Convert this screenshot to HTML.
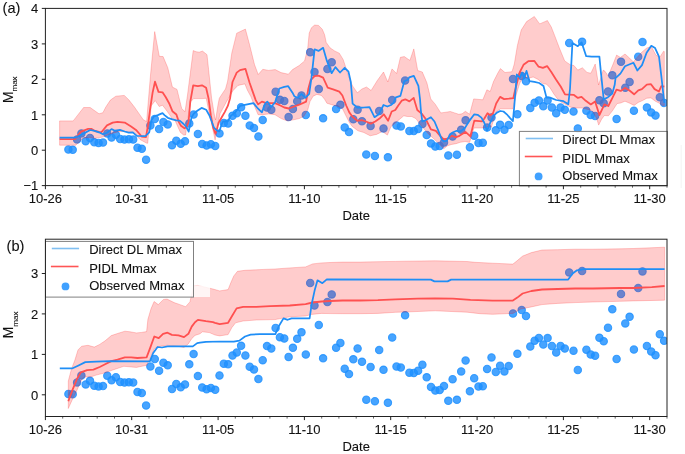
<!DOCTYPE html>
<html><head><meta charset="utf-8"><style>
html,body{margin:0;padding:0;background:#fff;width:685px;height:454px;overflow:hidden}
svg{display:block;will-change:transform}
.t{font-family:"Liberation Sans",sans-serif;font-size:13px;fill:#111;stroke:#111;stroke-width:0.1px}
.p{font-family:"Liberation Sans",sans-serif;font-size:14.6px;fill:#111;stroke:#111;stroke-width:0.1px}
</style></head><body>
<svg width="685" height="454" viewBox="0 0 685 454">
<rect width="685" height="454" fill="#fff"/>
<clipPath id="ca"><rect x="45.4" y="8.4" width="621.6" height="177.2"/></clipPath>
<g clip-path="url(#ca)">
<circle cx="68.4" cy="149.6" r="3.7" fill="#1e90ff" fill-opacity="0.82" stroke="#1e90ff" stroke-opacity="0.82" stroke-width="1.1"/>
<circle cx="72.7" cy="149.8" r="3.7" fill="#1e90ff" fill-opacity="0.82" stroke="#1e90ff" stroke-opacity="0.82" stroke-width="1.1"/>
<circle cx="77.1" cy="139.4" r="3.7" fill="#1e90ff" fill-opacity="0.82" stroke="#1e90ff" stroke-opacity="0.82" stroke-width="1.1"/>
<circle cx="81.4" cy="133.4" r="3.7" fill="#1e90ff" fill-opacity="0.82" stroke="#1e90ff" stroke-opacity="0.82" stroke-width="1.1"/>
<circle cx="85.7" cy="141.2" r="3.7" fill="#1e90ff" fill-opacity="0.82" stroke="#1e90ff" stroke-opacity="0.82" stroke-width="1.1"/>
<circle cx="90" cy="138" r="3.7" fill="#1e90ff" fill-opacity="0.82" stroke="#1e90ff" stroke-opacity="0.82" stroke-width="1.1"/>
<circle cx="94.3" cy="142.3" r="3.7" fill="#1e90ff" fill-opacity="0.82" stroke="#1e90ff" stroke-opacity="0.82" stroke-width="1.1"/>
<circle cx="98.6" cy="142.9" r="3.7" fill="#1e90ff" fill-opacity="0.82" stroke="#1e90ff" stroke-opacity="0.82" stroke-width="1.1"/>
<circle cx="103" cy="142.6" r="3.7" fill="#1e90ff" fill-opacity="0.82" stroke="#1e90ff" stroke-opacity="0.82" stroke-width="1.1"/>
<circle cx="107.3" cy="133.5" r="3.7" fill="#1e90ff" fill-opacity="0.82" stroke="#1e90ff" stroke-opacity="0.82" stroke-width="1.1"/>
<circle cx="111.6" cy="137.6" r="3.7" fill="#1e90ff" fill-opacity="0.82" stroke="#1e90ff" stroke-opacity="0.82" stroke-width="1.1"/>
<circle cx="115.9" cy="134.8" r="3.7" fill="#1e90ff" fill-opacity="0.82" stroke="#1e90ff" stroke-opacity="0.82" stroke-width="1.1"/>
<circle cx="120.2" cy="139" r="3.7" fill="#1e90ff" fill-opacity="0.82" stroke="#1e90ff" stroke-opacity="0.82" stroke-width="1.1"/>
<circle cx="124.5" cy="139.6" r="3.7" fill="#1e90ff" fill-opacity="0.82" stroke="#1e90ff" stroke-opacity="0.82" stroke-width="1.1"/>
<circle cx="128.9" cy="139.3" r="3.7" fill="#1e90ff" fill-opacity="0.82" stroke="#1e90ff" stroke-opacity="0.82" stroke-width="1.1"/>
<circle cx="133.2" cy="139.6" r="3.7" fill="#1e90ff" fill-opacity="0.82" stroke="#1e90ff" stroke-opacity="0.82" stroke-width="1.1"/>
<circle cx="137.5" cy="147.7" r="3.7" fill="#1e90ff" fill-opacity="0.82" stroke="#1e90ff" stroke-opacity="0.82" stroke-width="1.1"/>
<circle cx="141.8" cy="148.8" r="3.7" fill="#1e90ff" fill-opacity="0.82" stroke="#1e90ff" stroke-opacity="0.82" stroke-width="1.1"/>
<circle cx="146.1" cy="159.7" r="3.7" fill="#1e90ff" fill-opacity="0.82" stroke="#1e90ff" stroke-opacity="0.82" stroke-width="1.1"/>
<circle cx="150.4" cy="125.6" r="3.7" fill="#1e90ff" fill-opacity="0.82" stroke="#1e90ff" stroke-opacity="0.82" stroke-width="1.1"/>
<circle cx="154.8" cy="118.9" r="3.7" fill="#1e90ff" fill-opacity="0.82" stroke="#1e90ff" stroke-opacity="0.82" stroke-width="1.1"/>
<circle cx="159.1" cy="129.1" r="3.7" fill="#1e90ff" fill-opacity="0.82" stroke="#1e90ff" stroke-opacity="0.82" stroke-width="1.1"/>
<circle cx="163.4" cy="122.1" r="3.7" fill="#1e90ff" fill-opacity="0.82" stroke="#1e90ff" stroke-opacity="0.82" stroke-width="1.1"/>
<circle cx="167.7" cy="124.4" r="3.7" fill="#1e90ff" fill-opacity="0.82" stroke="#1e90ff" stroke-opacity="0.82" stroke-width="1.1"/>
<circle cx="172" cy="145.2" r="3.7" fill="#1e90ff" fill-opacity="0.82" stroke="#1e90ff" stroke-opacity="0.82" stroke-width="1.1"/>
<circle cx="176.3" cy="140.7" r="3.7" fill="#1e90ff" fill-opacity="0.82" stroke="#1e90ff" stroke-opacity="0.82" stroke-width="1.1"/>
<circle cx="180.7" cy="143.7" r="3.7" fill="#1e90ff" fill-opacity="0.82" stroke="#1e90ff" stroke-opacity="0.82" stroke-width="1.1"/>
<circle cx="185" cy="141.2" r="3.7" fill="#1e90ff" fill-opacity="0.82" stroke="#1e90ff" stroke-opacity="0.82" stroke-width="1.1"/>
<circle cx="189.3" cy="123.5" r="3.7" fill="#1e90ff" fill-opacity="0.82" stroke="#1e90ff" stroke-opacity="0.82" stroke-width="1.1"/>
<circle cx="193.6" cy="114.6" r="3.7" fill="#1e90ff" fill-opacity="0.82" stroke="#1e90ff" stroke-opacity="0.82" stroke-width="1.1"/>
<circle cx="197.9" cy="133.9" r="3.7" fill="#1e90ff" fill-opacity="0.82" stroke="#1e90ff" stroke-opacity="0.82" stroke-width="1.1"/>
<circle cx="202.2" cy="143.9" r="3.7" fill="#1e90ff" fill-opacity="0.82" stroke="#1e90ff" stroke-opacity="0.82" stroke-width="1.1"/>
<circle cx="206.6" cy="145.5" r="3.7" fill="#1e90ff" fill-opacity="0.82" stroke="#1e90ff" stroke-opacity="0.82" stroke-width="1.1"/>
<circle cx="210.9" cy="144.2" r="3.7" fill="#1e90ff" fill-opacity="0.82" stroke="#1e90ff" stroke-opacity="0.82" stroke-width="1.1"/>
<circle cx="215.2" cy="145.9" r="3.7" fill="#1e90ff" fill-opacity="0.82" stroke="#1e90ff" stroke-opacity="0.82" stroke-width="1.1"/>
<circle cx="219.5" cy="133.4" r="3.7" fill="#1e90ff" fill-opacity="0.82" stroke="#1e90ff" stroke-opacity="0.82" stroke-width="1.1"/>
<circle cx="223.8" cy="123" r="3.7" fill="#1e90ff" fill-opacity="0.82" stroke="#1e90ff" stroke-opacity="0.82" stroke-width="1.1"/>
<circle cx="228.1" cy="123.5" r="3.7" fill="#1e90ff" fill-opacity="0.82" stroke="#1e90ff" stroke-opacity="0.82" stroke-width="1.1"/>
<circle cx="232.5" cy="115.8" r="3.7" fill="#1e90ff" fill-opacity="0.82" stroke="#1e90ff" stroke-opacity="0.82" stroke-width="1.1"/>
<circle cx="236.8" cy="113.3" r="3.7" fill="#1e90ff" fill-opacity="0.82" stroke="#1e90ff" stroke-opacity="0.82" stroke-width="1.1"/>
<circle cx="241.1" cy="107.3" r="3.7" fill="#1e90ff" fill-opacity="0.82" stroke="#1e90ff" stroke-opacity="0.82" stroke-width="1.1"/>
<circle cx="245.4" cy="115.8" r="3.7" fill="#1e90ff" fill-opacity="0.82" stroke="#1e90ff" stroke-opacity="0.82" stroke-width="1.1"/>
<circle cx="249.7" cy="125.6" r="3.7" fill="#1e90ff" fill-opacity="0.82" stroke="#1e90ff" stroke-opacity="0.82" stroke-width="1.1"/>
<circle cx="254" cy="128.1" r="3.7" fill="#1e90ff" fill-opacity="0.82" stroke="#1e90ff" stroke-opacity="0.82" stroke-width="1.1"/>
<circle cx="258.4" cy="136.5" r="3.7" fill="#1e90ff" fill-opacity="0.82" stroke="#1e90ff" stroke-opacity="0.82" stroke-width="1.1"/>
<circle cx="262.7" cy="119.9" r="3.7" fill="#1e90ff" fill-opacity="0.82" stroke="#1e90ff" stroke-opacity="0.82" stroke-width="1.1"/>
<circle cx="267" cy="107.6" r="3.7" fill="#1e90ff" fill-opacity="0.82" stroke="#1e90ff" stroke-opacity="0.82" stroke-width="1.1"/>
<circle cx="271.3" cy="109.8" r="3.7" fill="#1e90ff" fill-opacity="0.82" stroke="#1e90ff" stroke-opacity="0.82" stroke-width="1.1"/>
<circle cx="275.6" cy="91.7" r="3.7" fill="#1e90ff" fill-opacity="0.82" stroke="#1e90ff" stroke-opacity="0.82" stroke-width="1.1"/>
<circle cx="279.9" cy="99.8" r="3.7" fill="#1e90ff" fill-opacity="0.82" stroke="#1e90ff" stroke-opacity="0.82" stroke-width="1.1"/>
<circle cx="284.3" cy="100.9" r="3.7" fill="#1e90ff" fill-opacity="0.82" stroke="#1e90ff" stroke-opacity="0.82" stroke-width="1.1"/>
<circle cx="288.6" cy="117.1" r="3.7" fill="#1e90ff" fill-opacity="0.82" stroke="#1e90ff" stroke-opacity="0.82" stroke-width="1.1"/>
<circle cx="292.9" cy="109.1" r="3.7" fill="#1e90ff" fill-opacity="0.82" stroke="#1e90ff" stroke-opacity="0.82" stroke-width="1.1"/>
<circle cx="297.2" cy="101.2" r="3.7" fill="#1e90ff" fill-opacity="0.82" stroke="#1e90ff" stroke-opacity="0.82" stroke-width="1.1"/>
<circle cx="301.5" cy="95.5" r="3.7" fill="#1e90ff" fill-opacity="0.82" stroke="#1e90ff" stroke-opacity="0.82" stroke-width="1.1"/>
<circle cx="305.8" cy="115" r="3.7" fill="#1e90ff" fill-opacity="0.82" stroke="#1e90ff" stroke-opacity="0.82" stroke-width="1.1"/>
<circle cx="310.2" cy="52.3" r="3.7" fill="#1e90ff" fill-opacity="0.82" stroke="#1e90ff" stroke-opacity="0.82" stroke-width="1.1"/>
<circle cx="314.5" cy="72.1" r="3.7" fill="#1e90ff" fill-opacity="0.82" stroke="#1e90ff" stroke-opacity="0.82" stroke-width="1.1"/>
<circle cx="318.8" cy="89.1" r="3.7" fill="#1e90ff" fill-opacity="0.82" stroke="#1e90ff" stroke-opacity="0.82" stroke-width="1.1"/>
<circle cx="323.1" cy="118.3" r="3.7" fill="#1e90ff" fill-opacity="0.82" stroke="#1e90ff" stroke-opacity="0.82" stroke-width="1.1"/>
<circle cx="327.4" cy="69" r="3.7" fill="#1e90ff" fill-opacity="0.82" stroke="#1e90ff" stroke-opacity="0.82" stroke-width="1.1"/>
<circle cx="331.7" cy="62.3" r="3.7" fill="#1e90ff" fill-opacity="0.82" stroke="#1e90ff" stroke-opacity="0.82" stroke-width="1.1"/>
<circle cx="336.1" cy="109" r="3.7" fill="#1e90ff" fill-opacity="0.82" stroke="#1e90ff" stroke-opacity="0.82" stroke-width="1.1"/>
<circle cx="340.4" cy="104.8" r="3.7" fill="#1e90ff" fill-opacity="0.82" stroke="#1e90ff" stroke-opacity="0.82" stroke-width="1.1"/>
<circle cx="344.7" cy="127.4" r="3.7" fill="#1e90ff" fill-opacity="0.82" stroke="#1e90ff" stroke-opacity="0.82" stroke-width="1.1"/>
<circle cx="349" cy="132.1" r="3.7" fill="#1e90ff" fill-opacity="0.82" stroke="#1e90ff" stroke-opacity="0.82" stroke-width="1.1"/>
<circle cx="353.3" cy="119.2" r="3.7" fill="#1e90ff" fill-opacity="0.82" stroke="#1e90ff" stroke-opacity="0.82" stroke-width="1.1"/>
<circle cx="357.6" cy="109.7" r="3.7" fill="#1e90ff" fill-opacity="0.82" stroke="#1e90ff" stroke-opacity="0.82" stroke-width="1.1"/>
<circle cx="362" cy="121.3" r="3.7" fill="#1e90ff" fill-opacity="0.82" stroke="#1e90ff" stroke-opacity="0.82" stroke-width="1.1"/>
<circle cx="366.3" cy="154.6" r="3.7" fill="#1e90ff" fill-opacity="0.82" stroke="#1e90ff" stroke-opacity="0.82" stroke-width="1.1"/>
<circle cx="370.6" cy="125.9" r="3.7" fill="#1e90ff" fill-opacity="0.82" stroke="#1e90ff" stroke-opacity="0.82" stroke-width="1.1"/>
<circle cx="374.9" cy="155.9" r="3.7" fill="#1e90ff" fill-opacity="0.82" stroke="#1e90ff" stroke-opacity="0.82" stroke-width="1.1"/>
<circle cx="379.2" cy="111.1" r="3.7" fill="#1e90ff" fill-opacity="0.82" stroke="#1e90ff" stroke-opacity="0.82" stroke-width="1.1"/>
<circle cx="383.5" cy="128.4" r="3.7" fill="#1e90ff" fill-opacity="0.82" stroke="#1e90ff" stroke-opacity="0.82" stroke-width="1.1"/>
<circle cx="387.9" cy="157.3" r="3.7" fill="#1e90ff" fill-opacity="0.82" stroke="#1e90ff" stroke-opacity="0.82" stroke-width="1.1"/>
<circle cx="392.2" cy="100.1" r="3.7" fill="#1e90ff" fill-opacity="0.82" stroke="#1e90ff" stroke-opacity="0.82" stroke-width="1.1"/>
<circle cx="396.5" cy="125.6" r="3.7" fill="#1e90ff" fill-opacity="0.82" stroke="#1e90ff" stroke-opacity="0.82" stroke-width="1.1"/>
<circle cx="400.8" cy="126.4" r="3.7" fill="#1e90ff" fill-opacity="0.82" stroke="#1e90ff" stroke-opacity="0.82" stroke-width="1.1"/>
<circle cx="405.1" cy="80.6" r="3.7" fill="#1e90ff" fill-opacity="0.82" stroke="#1e90ff" stroke-opacity="0.82" stroke-width="1.1"/>
<circle cx="409.4" cy="130.9" r="3.7" fill="#1e90ff" fill-opacity="0.82" stroke="#1e90ff" stroke-opacity="0.82" stroke-width="1.1"/>
<circle cx="413.8" cy="131.1" r="3.7" fill="#1e90ff" fill-opacity="0.82" stroke="#1e90ff" stroke-opacity="0.82" stroke-width="1.1"/>
<circle cx="418.1" cy="129.1" r="3.7" fill="#1e90ff" fill-opacity="0.82" stroke="#1e90ff" stroke-opacity="0.82" stroke-width="1.1"/>
<circle cx="422.4" cy="123.9" r="3.7" fill="#1e90ff" fill-opacity="0.82" stroke="#1e90ff" stroke-opacity="0.82" stroke-width="1.1"/>
<circle cx="426.7" cy="134.9" r="3.7" fill="#1e90ff" fill-opacity="0.82" stroke="#1e90ff" stroke-opacity="0.82" stroke-width="1.1"/>
<circle cx="431" cy="143.4" r="3.7" fill="#1e90ff" fill-opacity="0.82" stroke="#1e90ff" stroke-opacity="0.82" stroke-width="1.1"/>
<circle cx="435.3" cy="146.5" r="3.7" fill="#1e90ff" fill-opacity="0.82" stroke="#1e90ff" stroke-opacity="0.82" stroke-width="1.1"/>
<circle cx="439.7" cy="146" r="3.7" fill="#1e90ff" fill-opacity="0.82" stroke="#1e90ff" stroke-opacity="0.82" stroke-width="1.1"/>
<circle cx="444" cy="142.6" r="3.7" fill="#1e90ff" fill-opacity="0.82" stroke="#1e90ff" stroke-opacity="0.82" stroke-width="1.1"/>
<circle cx="448.3" cy="155.5" r="3.7" fill="#1e90ff" fill-opacity="0.82" stroke="#1e90ff" stroke-opacity="0.82" stroke-width="1.1"/>
<circle cx="452.6" cy="136.6" r="3.7" fill="#1e90ff" fill-opacity="0.82" stroke="#1e90ff" stroke-opacity="0.82" stroke-width="1.1"/>
<circle cx="456.9" cy="154.7" r="3.7" fill="#1e90ff" fill-opacity="0.82" stroke="#1e90ff" stroke-opacity="0.82" stroke-width="1.1"/>
<circle cx="461.2" cy="129.8" r="3.7" fill="#1e90ff" fill-opacity="0.82" stroke="#1e90ff" stroke-opacity="0.82" stroke-width="1.1"/>
<circle cx="465.6" cy="120.3" r="3.7" fill="#1e90ff" fill-opacity="0.82" stroke="#1e90ff" stroke-opacity="0.82" stroke-width="1.1"/>
<circle cx="469.9" cy="147.2" r="3.7" fill="#1e90ff" fill-opacity="0.82" stroke="#1e90ff" stroke-opacity="0.82" stroke-width="1.1"/>
<circle cx="474.2" cy="135.7" r="3.7" fill="#1e90ff" fill-opacity="0.82" stroke="#1e90ff" stroke-opacity="0.82" stroke-width="1.1"/>
<circle cx="478.5" cy="143.1" r="3.7" fill="#1e90ff" fill-opacity="0.82" stroke="#1e90ff" stroke-opacity="0.82" stroke-width="1.1"/>
<circle cx="482.8" cy="142.7" r="3.7" fill="#1e90ff" fill-opacity="0.82" stroke="#1e90ff" stroke-opacity="0.82" stroke-width="1.1"/>
<circle cx="487.1" cy="127.6" r="3.7" fill="#1e90ff" fill-opacity="0.82" stroke="#1e90ff" stroke-opacity="0.82" stroke-width="1.1"/>
<circle cx="491.5" cy="117.5" r="3.7" fill="#1e90ff" fill-opacity="0.82" stroke="#1e90ff" stroke-opacity="0.82" stroke-width="1.1"/>
<circle cx="495.8" cy="130.3" r="3.7" fill="#1e90ff" fill-opacity="0.82" stroke="#1e90ff" stroke-opacity="0.82" stroke-width="1.1"/>
<circle cx="500.1" cy="124.8" r="3.7" fill="#1e90ff" fill-opacity="0.82" stroke="#1e90ff" stroke-opacity="0.82" stroke-width="1.1"/>
<circle cx="504.4" cy="129.8" r="3.7" fill="#1e90ff" fill-opacity="0.82" stroke="#1e90ff" stroke-opacity="0.82" stroke-width="1.1"/>
<circle cx="508.7" cy="125.1" r="3.7" fill="#1e90ff" fill-opacity="0.82" stroke="#1e90ff" stroke-opacity="0.82" stroke-width="1.1"/>
<circle cx="513" cy="79" r="3.7" fill="#1e90ff" fill-opacity="0.82" stroke="#1e90ff" stroke-opacity="0.82" stroke-width="1.1"/>
<circle cx="517.4" cy="114.3" r="3.7" fill="#1e90ff" fill-opacity="0.82" stroke="#1e90ff" stroke-opacity="0.82" stroke-width="1.1"/>
<circle cx="521.7" cy="76" r="3.7" fill="#1e90ff" fill-opacity="0.82" stroke="#1e90ff" stroke-opacity="0.82" stroke-width="1.1"/>
<circle cx="526" cy="81.3" r="3.7" fill="#1e90ff" fill-opacity="0.82" stroke="#1e90ff" stroke-opacity="0.82" stroke-width="1.1"/>
<circle cx="530.3" cy="107.9" r="3.7" fill="#1e90ff" fill-opacity="0.82" stroke="#1e90ff" stroke-opacity="0.82" stroke-width="1.1"/>
<circle cx="534.6" cy="102.8" r="3.7" fill="#1e90ff" fill-opacity="0.82" stroke="#1e90ff" stroke-opacity="0.82" stroke-width="1.1"/>
<circle cx="538.9" cy="100.4" r="3.7" fill="#1e90ff" fill-opacity="0.82" stroke="#1e90ff" stroke-opacity="0.82" stroke-width="1.1"/>
<circle cx="543.3" cy="106.3" r="3.7" fill="#1e90ff" fill-opacity="0.82" stroke="#1e90ff" stroke-opacity="0.82" stroke-width="1.1"/>
<circle cx="547.6" cy="100.6" r="3.7" fill="#1e90ff" fill-opacity="0.82" stroke="#1e90ff" stroke-opacity="0.82" stroke-width="1.1"/>
<circle cx="551.9" cy="107.5" r="3.7" fill="#1e90ff" fill-opacity="0.82" stroke="#1e90ff" stroke-opacity="0.82" stroke-width="1.1"/>
<circle cx="556.2" cy="113.2" r="3.7" fill="#1e90ff" fill-opacity="0.82" stroke="#1e90ff" stroke-opacity="0.82" stroke-width="1.1"/>
<circle cx="560.5" cy="107.5" r="3.7" fill="#1e90ff" fill-opacity="0.82" stroke="#1e90ff" stroke-opacity="0.82" stroke-width="1.1"/>
<circle cx="564.8" cy="109.8" r="3.7" fill="#1e90ff" fill-opacity="0.82" stroke="#1e90ff" stroke-opacity="0.82" stroke-width="1.1"/>
<circle cx="569.2" cy="43" r="3.7" fill="#1e90ff" fill-opacity="0.82" stroke="#1e90ff" stroke-opacity="0.82" stroke-width="1.1"/>
<circle cx="573.5" cy="111.6" r="3.7" fill="#1e90ff" fill-opacity="0.82" stroke="#1e90ff" stroke-opacity="0.82" stroke-width="1.1"/>
<circle cx="577.8" cy="128.5" r="3.7" fill="#1e90ff" fill-opacity="0.82" stroke="#1e90ff" stroke-opacity="0.82" stroke-width="1.1"/>
<circle cx="582.1" cy="41.8" r="3.7" fill="#1e90ff" fill-opacity="0.82" stroke="#1e90ff" stroke-opacity="0.82" stroke-width="1.1"/>
<circle cx="586.4" cy="110.7" r="3.7" fill="#1e90ff" fill-opacity="0.82" stroke="#1e90ff" stroke-opacity="0.82" stroke-width="1.1"/>
<circle cx="590.7" cy="114.9" r="3.7" fill="#1e90ff" fill-opacity="0.82" stroke="#1e90ff" stroke-opacity="0.82" stroke-width="1.1"/>
<circle cx="595.1" cy="116" r="3.7" fill="#1e90ff" fill-opacity="0.82" stroke="#1e90ff" stroke-opacity="0.82" stroke-width="1.1"/>
<circle cx="599.4" cy="100.3" r="3.7" fill="#1e90ff" fill-opacity="0.82" stroke="#1e90ff" stroke-opacity="0.82" stroke-width="1.1"/>
<circle cx="603.7" cy="103.3" r="3.7" fill="#1e90ff" fill-opacity="0.82" stroke="#1e90ff" stroke-opacity="0.82" stroke-width="1.1"/>
<circle cx="608" cy="91.5" r="3.7" fill="#1e90ff" fill-opacity="0.82" stroke="#1e90ff" stroke-opacity="0.82" stroke-width="1.1"/>
<circle cx="612.3" cy="75.3" r="3.7" fill="#1e90ff" fill-opacity="0.82" stroke="#1e90ff" stroke-opacity="0.82" stroke-width="1.1"/>
<circle cx="616.6" cy="118.9" r="3.7" fill="#1e90ff" fill-opacity="0.82" stroke="#1e90ff" stroke-opacity="0.82" stroke-width="1.1"/>
<circle cx="621" cy="61.8" r="3.7" fill="#1e90ff" fill-opacity="0.82" stroke="#1e90ff" stroke-opacity="0.82" stroke-width="1.1"/>
<circle cx="625.3" cy="87.7" r="3.7" fill="#1e90ff" fill-opacity="0.82" stroke="#1e90ff" stroke-opacity="0.82" stroke-width="1.1"/>
<circle cx="629.6" cy="81.9" r="3.7" fill="#1e90ff" fill-opacity="0.82" stroke="#1e90ff" stroke-opacity="0.82" stroke-width="1.1"/>
<circle cx="633.9" cy="110.7" r="3.7" fill="#1e90ff" fill-opacity="0.82" stroke="#1e90ff" stroke-opacity="0.82" stroke-width="1.1"/>
<circle cx="638.2" cy="56.7" r="3.7" fill="#1e90ff" fill-opacity="0.82" stroke="#1e90ff" stroke-opacity="0.82" stroke-width="1.1"/>
<circle cx="642.5" cy="42.1" r="3.7" fill="#1e90ff" fill-opacity="0.82" stroke="#1e90ff" stroke-opacity="0.82" stroke-width="1.1"/>
<circle cx="646.9" cy="107.4" r="3.7" fill="#1e90ff" fill-opacity="0.82" stroke="#1e90ff" stroke-opacity="0.82" stroke-width="1.1"/>
<circle cx="651.2" cy="112.4" r="3.7" fill="#1e90ff" fill-opacity="0.82" stroke="#1e90ff" stroke-opacity="0.82" stroke-width="1.1"/>
<circle cx="655.5" cy="115.6" r="3.7" fill="#1e90ff" fill-opacity="0.82" stroke="#1e90ff" stroke-opacity="0.82" stroke-width="1.1"/>
<circle cx="659.8" cy="97.2" r="3.7" fill="#1e90ff" fill-opacity="0.82" stroke="#1e90ff" stroke-opacity="0.82" stroke-width="1.1"/>
<circle cx="664.1" cy="102.9" r="3.7" fill="#1e90ff" fill-opacity="0.82" stroke="#1e90ff" stroke-opacity="0.82" stroke-width="1.1"/>
<path d="M59.6,120.9 L73.2,120.9 L83.6,107.5 L90.2,107.5 L99,113.8 L102.9,112.7 L105.8,107 L110.4,100.1 L115.8,96.2 L124.3,95.4 L129,100.1 L134.4,107 L139.8,114.7 L143.3,119.8 L146.6,121.5 L150.5,75 L154.7,31.6 L159.3,56.3 L163.1,56.6 L167.8,67.8 L172.4,87.1 L177,89.4 L181.7,108.5 L185,111.8 L187.5,95 L193.2,50.6 L196.2,51.7 L199.2,52.2 L202.5,51.1 L207,54.7 L208.6,69.6 L211.6,98.2 L214.7,116.7 L215.6,120 L217.8,105.9 L219.3,98.2 L222.4,93.5 L225.5,88.9 L227.6,81.2 L231.8,53 L236.7,33.2 L245.4,29.1 L249.6,44.8 L254.5,64.6 L258.2,74.5 L262.8,69.3 L268.6,70.4 L275.2,69.6 L281,72.6 L288.4,74.2 L292.5,69.6 L299.2,65.5 L304.6,60.9 L307.7,48.6 L309.2,33.1 L311.5,27.7 L314.6,25.1 L318.5,25.4 L322.3,29.3 L324.6,34.7 L326.2,42.4 L330,47.8 L334.6,50.9 L339.3,53.2 L343.1,59.4 L346.2,68.6 L348.5,76.3 L352.6,85.9 L357.3,92.8 L361.9,89 L366.5,87 L371.1,90.5 L377.3,80.5 L383.5,72 L387.8,82 L392,68.9 L396.6,73.5 L400.4,57.3 L404.3,56.6 L409.9,60.4 L413.8,48.9 L417.7,70.5 L422.3,72 L426.9,82.8 L430.8,99 L435.4,104.4 L440.8,112.9 L446,112.2 L450.3,111.5 L454.6,112.9 L458.8,114.3 L462.1,113.8 L465.4,111.3 L469.6,114.3 L473.7,98.9 L482.8,99.8 L486.9,89.8 L490.2,91.5 L493.5,81.6 L497.7,73.3 L500.4,68.6 L505,72.5 L512,71.7 L514.3,64 L517.4,45.5 L521.2,30.1 L526.6,21.6 L534.3,16.5 L539.7,23.9 L547.4,20.5 L551.3,27 L554.6,35.4 L559.3,47.8 L564.7,60.9 L570.1,64.7 L573.9,65.5 L577.8,70.1 L582.4,67.8 L587,72.4 L590.9,73.2 L595.2,64 L598.6,85 L603.2,70.1 L605,71.3 L608.1,75.9 L612.7,65.1 L616.6,55.1 L620.4,57.4 L625,54 L629.7,58.2 L633.5,62 L635.8,58.9 L641.2,52.8 L646.6,48.1 L651.3,46.6 L655.9,55.1 L659.7,57.4 L663.6,51.2 L664.3,51.5 L664.3,105.5 L662.5,105.4 L658.9,103 L655.3,101.2 L651,97.9 L646.8,98.2 L642.5,100.6 L638.3,102.4 L634.1,105.4 L629.2,103 L625,101.2 L620.7,103 L617.1,103.6 L612.3,111 L608.4,115.8 L604.4,115.5 L601.5,119.4 L598.7,125.1 L596.5,118 L592.2,110.8 L587.9,109.4 L582.2,108 L576.5,108 L570.8,107.2 L565.7,104.4 L561.6,102.4 L557.4,98.8 L553.8,93.9 L550.1,87.9 L546.5,84.2 L542.9,83.6 L538,79.4 L533.2,77 L528.3,78.2 L523.5,77 L519.8,83 L516.4,94 L512.9,108.8 L500.6,108.8 L495.8,112 L491.5,127 L487.2,127 L482.8,128 L473.9,128 L469.6,142.4 L465,141.5 L460.3,142.3 L456,143.7 L451.7,144.4 L447.4,145.8 L443.8,148.7 L440.2,145.1 L437.4,142.3 L433.1,138 L428.8,134.4 L424.5,129.4 L420.2,124.4 L415.9,118.6 L411.6,116.5 L407.3,116.5 L403.8,115.8 L399.6,119.3 L395.3,122.9 L391,126.5 L387.4,135.1 L382.4,131.5 L376.6,134.4 L370.2,135.8 L363.8,132.5 L358,130.8 L352.3,126.5 L349.3,122.4 L346.2,116.3 L342.4,108.6 L337.7,106.2 L331.6,104.7 L326.9,103.2 L324.6,99.3 L321.5,95.5 L316.9,94.4 L313.1,96.2 L310,101.6 L307.7,110.1 L303.8,116.3 L299.2,118.6 L293.5,119.8 L287.4,120.9 L281.2,118.6 L275,114.7 L268.8,113.9 L262.7,114.7 L258.1,114.7 L254.2,105.5 L251.1,97 L247.3,90 L244.9,83.9 L238,85.4 L233.2,90.4 L226.3,102 L220.1,113.6 L217.8,124.4 L215.1,139.9 L212.4,127.5 L209.3,113.6 L206.2,98.2 L203.1,98.6 L198.8,98.6 L193.7,98.6 L190.9,101.5 L187.3,120.8 L185.6,135 L183.6,135 L180.3,132.3 L177.7,126.4 L175,120.4 L171.7,117.8 L167.1,111.2 L162.5,105.2 L159.2,106.5 L155.2,100.6 L151.2,105.9 L147.7,143.3 L146.4,143.1 L140,139.5 L135,134 L131,131.8 L119,131.5 L110,134 L103,137 L95,138.3 L90,137.4 L83,138 L80,141 L75.9,145.2 L59.6,145.2 Z" fill="#ff0000" fill-opacity="0.2" stroke="#ff0000" stroke-opacity="0.2" stroke-width="1" stroke-linejoin="round"/>
<path d="M59.6,139.1 L75,139.1 L81,131.6 L88.2,128.8 L91.3,128.9 L95,131 L99,131.9 L101.4,132.3 L107,125.4 L112.7,122.6 L117.5,121.8 L124.7,122.6 L131.1,126.6 L136,129.9 L139.2,133.5 L141.6,136.5 L146,137.1 L147.9,125.7 L150.6,105.9 L152.6,92.6 L155,81.7 L158.5,91.9 L162.5,92.3 L165.8,97.3 L169.1,103.2 L172.4,111.2 L176.4,114.5 L179,122.4 L181,125.7 L184.5,128.3 L186.5,127.4 L188.6,122 L190.2,102.2 L193.2,85.3 L197.9,86.1 L202,85.3 L206.1,87.8 L208.5,98.2 L210.8,115.2 L213.1,127.5 L215.4,133.7 L217,129.1 L218.5,122.9 L221.6,117.5 L224.7,112.1 L227.8,105.9 L230.1,98.2 L232.5,82 L236.7,72.6 L240,70.1 L245.4,68.8 L249.6,82.8 L252.7,91.6 L255.7,100.1 L258.1,104.4 L261.9,101.6 L265.8,102.8 L269.6,103.1 L275,103.1 L280.4,105.5 L284.3,107.5 L288.9,108.5 L292.8,107 L299.2,104.7 L306.1,101.6 L308.4,88.5 L310.7,80 L314.6,76.2 L318.5,75.7 L323.1,77.7 L327.7,87.7 L333.1,89.3 L339.3,91.6 L342.4,95.5 L346.2,105.5 L349.3,112.4 L352.3,116.5 L357.3,120.8 L361.6,120.1 L365.9,121.5 L370.9,123.6 L375.2,121.5 L379.5,118.6 L383.8,114.3 L388.1,120.8 L391.7,111.5 L395.3,110 L398.1,105.7 L401.7,100.7 L405.3,99.3 L409.4,101.4 L413.7,97.9 L417.3,110 L421.6,113.6 L425.9,119.3 L430.9,129.4 L435.9,130.8 L440.2,135.8 L443.8,139.4 L447.4,138.7 L451.7,135.8 L456,137.2 L459.4,135.8 L465.5,131.9 L470.4,136.3 L474.3,120.6 L482,121.4 L484.2,118.7 L487.5,113.2 L490.3,115.4 L493,113.2 L496.2,103.5 L500.1,96.9 L504.1,99.1 L508.9,98.7 L513.3,98.2 L514.7,92 L516.4,85 L519.8,72.1 L523.5,64.8 L528.3,61.2 L534.4,61 L538.6,66.7 L542.9,67.9 L547.1,66.1 L551.3,72.1 L556,79.5 L560.7,86.5 L565,94.4 L573.6,94.8 L577.9,97.9 L581.5,96.8 L585.8,100.8 L590.8,104.4 L595.1,101.5 L599.4,115.1 L604.4,104.4 L608.3,106 L612.3,98.2 L616.5,89.7 L620.7,90.9 L625,87.9 L629.2,90.3 L634.1,94.3 L638.3,90.3 L641.9,89.1 L646.8,84.6 L651,84.2 L654.6,89.1 L658.9,91.5 L661.3,86.1 L664.3,86.7" fill="none" stroke="#ff5050" stroke-width="1.8" stroke-linejoin="round" stroke-linecap="butt"/>
<path d="M59.6,137.7 L75.4,137.7 L82.5,134.1 L90.2,130 L94.6,130.8 L99,132.3 L103,134.3 L107,132.7 L111.5,129.1 L115.1,130.7 L119.9,129.9 L124.7,131.5 L128.7,132.7 L132.8,132.3 L136.8,135.9 L140.8,136 L145.6,136 L149.2,132.3 L150.6,125.7 L151.2,120.4 L153.9,116.5 L157.8,115.1 L162.5,113.1 L164.5,115.1 L167.8,117.8 L172.4,119.4 L176.4,120.4 L179.7,120.7 L183.6,124 L186.3,127 L188.7,131.6 L191.6,117.2 L193.7,113.7 L197.3,110.8 L201.6,107.9 L206.2,109.7 L209.3,115.2 L211.6,121.3 L213.9,127.5 L217,130.6 L219.3,131.4 L221.6,124.4 L223.2,121.3 L227.8,121.3 L230.9,115.9 L235.5,112.1 L240,105.9 L247.3,104.4 L253.4,103.1 L257.3,107.8 L261.9,112.4 L265,103.9 L267.3,101.6 L271.2,107 L275,102.4 L279.3,88.5 L284.3,86.9 L288.2,86.2 L292.5,92.7 L294.3,96.2 L297.6,97.8 L301.5,93.9 L305.3,97.8 L309.2,93.9 L311.5,77.7 L314.6,49.3 L318.5,50.9 L323.1,47.8 L326.9,60.9 L331.6,73.2 L335.4,67.1 L340,72.5 L344.7,67.8 L348.5,71.7 L350.8,82 L352.6,103.6 L357.3,107.5 L363.4,107.5 L369.5,107.2 L374.5,117.2 L378.8,114.3 L383.5,105 L387.4,106.5 L391,105 L393.5,102.8 L395.8,97.4 L400.4,95.9 L404.3,81.2 L408,79.7 L409.2,77.4 L413.8,75.8 L418.4,85.9 L420,99 L420.9,110.8 L422.3,121.5 L425.9,120.1 L430.9,117.2 L434.5,121.5 L438.1,130.1 L441.7,139.4 L443.8,141.5 L446.7,140.8 L450.3,134.4 L453.1,132.2 L456.7,130.8 L460.5,131.4 L464.9,128 L469.3,120.9 L474.3,114.3 L477.6,114.8 L481.4,117.6 L484.2,122.5 L487,130.8 L490.3,122.5 L493.6,115.9 L496.9,112.6 L500.2,111 L503.5,111.5 L506.8,114.3 L510.1,118.1 L512.9,121.1 L514.2,107 L516.8,74.5 L519.8,77.6 L522.3,72.7 L524.1,78.2 L526.5,70.9 L529.5,81.2 L534.4,81.8 L539.2,83 L543.5,86 L546.5,97.6 L550.1,97.6 L556.2,100 L563.5,101.2 L568.3,104.2 L570,89 L572.4,43.1 L577.8,46.2 L581.6,42.4 L586.2,56.2 L591.6,56.6 L599.4,56.6 L600.9,72.4 L603.7,99.4 L608,97.2 L612.3,93.6 L614.7,84.8 L615.5,78.2 L620.4,73.6 L625,66.3 L629.7,64.3 L633.5,62.8 L637.4,70.5 L642,65.1 L646.6,52.8 L651.3,45.8 L655.1,48.1 L659,56.6 L661.3,75.9 L664.3,103" fill="none" stroke="#1f8ef6" stroke-width="1.75" stroke-linejoin="round" stroke-linecap="butt"/>
</g>
<clipPath id="cb"><rect x="45.4" y="239.2" width="621.6" height="177.3"/></clipPath>
<g clip-path="url(#cb)">
<circle cx="68.4" cy="394" r="3.7" fill="#1e90ff" fill-opacity="0.82" stroke="#1e90ff" stroke-opacity="0.82" stroke-width="1.1"/>
<circle cx="72.7" cy="394.3" r="3.7" fill="#1e90ff" fill-opacity="0.82" stroke="#1e90ff" stroke-opacity="0.82" stroke-width="1.1"/>
<circle cx="77.1" cy="382.4" r="3.7" fill="#1e90ff" fill-opacity="0.82" stroke="#1e90ff" stroke-opacity="0.82" stroke-width="1.1"/>
<circle cx="81.4" cy="375.6" r="3.7" fill="#1e90ff" fill-opacity="0.82" stroke="#1e90ff" stroke-opacity="0.82" stroke-width="1.1"/>
<circle cx="85.7" cy="384.4" r="3.7" fill="#1e90ff" fill-opacity="0.82" stroke="#1e90ff" stroke-opacity="0.82" stroke-width="1.1"/>
<circle cx="90" cy="380.8" r="3.7" fill="#1e90ff" fill-opacity="0.82" stroke="#1e90ff" stroke-opacity="0.82" stroke-width="1.1"/>
<circle cx="94.3" cy="385.7" r="3.7" fill="#1e90ff" fill-opacity="0.82" stroke="#1e90ff" stroke-opacity="0.82" stroke-width="1.1"/>
<circle cx="98.6" cy="386.4" r="3.7" fill="#1e90ff" fill-opacity="0.82" stroke="#1e90ff" stroke-opacity="0.82" stroke-width="1.1"/>
<circle cx="103" cy="386.1" r="3.7" fill="#1e90ff" fill-opacity="0.82" stroke="#1e90ff" stroke-opacity="0.82" stroke-width="1.1"/>
<circle cx="107.3" cy="375.7" r="3.7" fill="#1e90ff" fill-opacity="0.82" stroke="#1e90ff" stroke-opacity="0.82" stroke-width="1.1"/>
<circle cx="111.6" cy="380.3" r="3.7" fill="#1e90ff" fill-opacity="0.82" stroke="#1e90ff" stroke-opacity="0.82" stroke-width="1.1"/>
<circle cx="115.9" cy="377.2" r="3.7" fill="#1e90ff" fill-opacity="0.82" stroke="#1e90ff" stroke-opacity="0.82" stroke-width="1.1"/>
<circle cx="120.2" cy="381.9" r="3.7" fill="#1e90ff" fill-opacity="0.82" stroke="#1e90ff" stroke-opacity="0.82" stroke-width="1.1"/>
<circle cx="124.5" cy="382.6" r="3.7" fill="#1e90ff" fill-opacity="0.82" stroke="#1e90ff" stroke-opacity="0.82" stroke-width="1.1"/>
<circle cx="128.9" cy="382.3" r="3.7" fill="#1e90ff" fill-opacity="0.82" stroke="#1e90ff" stroke-opacity="0.82" stroke-width="1.1"/>
<circle cx="133.2" cy="382.6" r="3.7" fill="#1e90ff" fill-opacity="0.82" stroke="#1e90ff" stroke-opacity="0.82" stroke-width="1.1"/>
<circle cx="137.5" cy="391.9" r="3.7" fill="#1e90ff" fill-opacity="0.82" stroke="#1e90ff" stroke-opacity="0.82" stroke-width="1.1"/>
<circle cx="141.8" cy="393.1" r="3.7" fill="#1e90ff" fill-opacity="0.82" stroke="#1e90ff" stroke-opacity="0.82" stroke-width="1.1"/>
<circle cx="146.1" cy="405.6" r="3.7" fill="#1e90ff" fill-opacity="0.82" stroke="#1e90ff" stroke-opacity="0.82" stroke-width="1.1"/>
<circle cx="150.4" cy="366.6" r="3.7" fill="#1e90ff" fill-opacity="0.82" stroke="#1e90ff" stroke-opacity="0.82" stroke-width="1.1"/>
<circle cx="154.8" cy="359" r="3.7" fill="#1e90ff" fill-opacity="0.82" stroke="#1e90ff" stroke-opacity="0.82" stroke-width="1.1"/>
<circle cx="159.1" cy="370.7" r="3.7" fill="#1e90ff" fill-opacity="0.82" stroke="#1e90ff" stroke-opacity="0.82" stroke-width="1.1"/>
<circle cx="163.4" cy="362.7" r="3.7" fill="#1e90ff" fill-opacity="0.82" stroke="#1e90ff" stroke-opacity="0.82" stroke-width="1.1"/>
<circle cx="167.7" cy="365.3" r="3.7" fill="#1e90ff" fill-opacity="0.82" stroke="#1e90ff" stroke-opacity="0.82" stroke-width="1.1"/>
<circle cx="172" cy="389" r="3.7" fill="#1e90ff" fill-opacity="0.82" stroke="#1e90ff" stroke-opacity="0.82" stroke-width="1.1"/>
<circle cx="176.3" cy="383.9" r="3.7" fill="#1e90ff" fill-opacity="0.82" stroke="#1e90ff" stroke-opacity="0.82" stroke-width="1.1"/>
<circle cx="180.7" cy="387.3" r="3.7" fill="#1e90ff" fill-opacity="0.82" stroke="#1e90ff" stroke-opacity="0.82" stroke-width="1.1"/>
<circle cx="185" cy="384.4" r="3.7" fill="#1e90ff" fill-opacity="0.82" stroke="#1e90ff" stroke-opacity="0.82" stroke-width="1.1"/>
<circle cx="189.3" cy="364.3" r="3.7" fill="#1e90ff" fill-opacity="0.82" stroke="#1e90ff" stroke-opacity="0.82" stroke-width="1.1"/>
<circle cx="193.6" cy="354.1" r="3.7" fill="#1e90ff" fill-opacity="0.82" stroke="#1e90ff" stroke-opacity="0.82" stroke-width="1.1"/>
<circle cx="197.9" cy="376.1" r="3.7" fill="#1e90ff" fill-opacity="0.82" stroke="#1e90ff" stroke-opacity="0.82" stroke-width="1.1"/>
<circle cx="202.2" cy="387.5" r="3.7" fill="#1e90ff" fill-opacity="0.82" stroke="#1e90ff" stroke-opacity="0.82" stroke-width="1.1"/>
<circle cx="206.6" cy="389.3" r="3.7" fill="#1e90ff" fill-opacity="0.82" stroke="#1e90ff" stroke-opacity="0.82" stroke-width="1.1"/>
<circle cx="210.9" cy="387.9" r="3.7" fill="#1e90ff" fill-opacity="0.82" stroke="#1e90ff" stroke-opacity="0.82" stroke-width="1.1"/>
<circle cx="215.2" cy="389.8" r="3.7" fill="#1e90ff" fill-opacity="0.82" stroke="#1e90ff" stroke-opacity="0.82" stroke-width="1.1"/>
<circle cx="219.5" cy="375.5" r="3.7" fill="#1e90ff" fill-opacity="0.82" stroke="#1e90ff" stroke-opacity="0.82" stroke-width="1.1"/>
<circle cx="223.8" cy="363.7" r="3.7" fill="#1e90ff" fill-opacity="0.82" stroke="#1e90ff" stroke-opacity="0.82" stroke-width="1.1"/>
<circle cx="228.1" cy="364.3" r="3.7" fill="#1e90ff" fill-opacity="0.82" stroke="#1e90ff" stroke-opacity="0.82" stroke-width="1.1"/>
<circle cx="232.5" cy="355.5" r="3.7" fill="#1e90ff" fill-opacity="0.82" stroke="#1e90ff" stroke-opacity="0.82" stroke-width="1.1"/>
<circle cx="236.8" cy="352.6" r="3.7" fill="#1e90ff" fill-opacity="0.82" stroke="#1e90ff" stroke-opacity="0.82" stroke-width="1.1"/>
<circle cx="241.1" cy="345.8" r="3.7" fill="#1e90ff" fill-opacity="0.82" stroke="#1e90ff" stroke-opacity="0.82" stroke-width="1.1"/>
<circle cx="245.4" cy="355.5" r="3.7" fill="#1e90ff" fill-opacity="0.82" stroke="#1e90ff" stroke-opacity="0.82" stroke-width="1.1"/>
<circle cx="249.7" cy="366.7" r="3.7" fill="#1e90ff" fill-opacity="0.82" stroke="#1e90ff" stroke-opacity="0.82" stroke-width="1.1"/>
<circle cx="254" cy="369.5" r="3.7" fill="#1e90ff" fill-opacity="0.82" stroke="#1e90ff" stroke-opacity="0.82" stroke-width="1.1"/>
<circle cx="258.4" cy="379.1" r="3.7" fill="#1e90ff" fill-opacity="0.82" stroke="#1e90ff" stroke-opacity="0.82" stroke-width="1.1"/>
<circle cx="262.7" cy="360.2" r="3.7" fill="#1e90ff" fill-opacity="0.82" stroke="#1e90ff" stroke-opacity="0.82" stroke-width="1.1"/>
<circle cx="267" cy="346.1" r="3.7" fill="#1e90ff" fill-opacity="0.82" stroke="#1e90ff" stroke-opacity="0.82" stroke-width="1.1"/>
<circle cx="271.3" cy="348.6" r="3.7" fill="#1e90ff" fill-opacity="0.82" stroke="#1e90ff" stroke-opacity="0.82" stroke-width="1.1"/>
<circle cx="275.6" cy="328" r="3.7" fill="#1e90ff" fill-opacity="0.82" stroke="#1e90ff" stroke-opacity="0.82" stroke-width="1.1"/>
<circle cx="279.9" cy="337.2" r="3.7" fill="#1e90ff" fill-opacity="0.82" stroke="#1e90ff" stroke-opacity="0.82" stroke-width="1.1"/>
<circle cx="284.3" cy="338.5" r="3.7" fill="#1e90ff" fill-opacity="0.82" stroke="#1e90ff" stroke-opacity="0.82" stroke-width="1.1"/>
<circle cx="288.6" cy="356.9" r="3.7" fill="#1e90ff" fill-opacity="0.82" stroke="#1e90ff" stroke-opacity="0.82" stroke-width="1.1"/>
<circle cx="292.9" cy="347.8" r="3.7" fill="#1e90ff" fill-opacity="0.82" stroke="#1e90ff" stroke-opacity="0.82" stroke-width="1.1"/>
<circle cx="297.2" cy="338.8" r="3.7" fill="#1e90ff" fill-opacity="0.82" stroke="#1e90ff" stroke-opacity="0.82" stroke-width="1.1"/>
<circle cx="301.5" cy="332.3" r="3.7" fill="#1e90ff" fill-opacity="0.82" stroke="#1e90ff" stroke-opacity="0.82" stroke-width="1.1"/>
<circle cx="305.8" cy="354.6" r="3.7" fill="#1e90ff" fill-opacity="0.82" stroke="#1e90ff" stroke-opacity="0.82" stroke-width="1.1"/>
<circle cx="310.2" cy="283" r="3.7" fill="#1e90ff" fill-opacity="0.82" stroke="#1e90ff" stroke-opacity="0.82" stroke-width="1.1"/>
<circle cx="314.5" cy="305.6" r="3.7" fill="#1e90ff" fill-opacity="0.82" stroke="#1e90ff" stroke-opacity="0.82" stroke-width="1.1"/>
<circle cx="318.8" cy="325" r="3.7" fill="#1e90ff" fill-opacity="0.82" stroke="#1e90ff" stroke-opacity="0.82" stroke-width="1.1"/>
<circle cx="323.1" cy="358.3" r="3.7" fill="#1e90ff" fill-opacity="0.82" stroke="#1e90ff" stroke-opacity="0.82" stroke-width="1.1"/>
<circle cx="327.4" cy="302.1" r="3.7" fill="#1e90ff" fill-opacity="0.82" stroke="#1e90ff" stroke-opacity="0.82" stroke-width="1.1"/>
<circle cx="331.7" cy="294.4" r="3.7" fill="#1e90ff" fill-opacity="0.82" stroke="#1e90ff" stroke-opacity="0.82" stroke-width="1.1"/>
<circle cx="336.1" cy="347.7" r="3.7" fill="#1e90ff" fill-opacity="0.82" stroke="#1e90ff" stroke-opacity="0.82" stroke-width="1.1"/>
<circle cx="340.4" cy="342.9" r="3.7" fill="#1e90ff" fill-opacity="0.82" stroke="#1e90ff" stroke-opacity="0.82" stroke-width="1.1"/>
<circle cx="344.7" cy="368.7" r="3.7" fill="#1e90ff" fill-opacity="0.82" stroke="#1e90ff" stroke-opacity="0.82" stroke-width="1.1"/>
<circle cx="349" cy="374.1" r="3.7" fill="#1e90ff" fill-opacity="0.82" stroke="#1e90ff" stroke-opacity="0.82" stroke-width="1.1"/>
<circle cx="353.3" cy="359.3" r="3.7" fill="#1e90ff" fill-opacity="0.82" stroke="#1e90ff" stroke-opacity="0.82" stroke-width="1.1"/>
<circle cx="357.6" cy="348.5" r="3.7" fill="#1e90ff" fill-opacity="0.82" stroke="#1e90ff" stroke-opacity="0.82" stroke-width="1.1"/>
<circle cx="362" cy="361.8" r="3.7" fill="#1e90ff" fill-opacity="0.82" stroke="#1e90ff" stroke-opacity="0.82" stroke-width="1.1"/>
<circle cx="366.3" cy="399.7" r="3.7" fill="#1e90ff" fill-opacity="0.82" stroke="#1e90ff" stroke-opacity="0.82" stroke-width="1.1"/>
<circle cx="370.6" cy="367" r="3.7" fill="#1e90ff" fill-opacity="0.82" stroke="#1e90ff" stroke-opacity="0.82" stroke-width="1.1"/>
<circle cx="374.9" cy="401.2" r="3.7" fill="#1e90ff" fill-opacity="0.82" stroke="#1e90ff" stroke-opacity="0.82" stroke-width="1.1"/>
<circle cx="379.2" cy="350.1" r="3.7" fill="#1e90ff" fill-opacity="0.82" stroke="#1e90ff" stroke-opacity="0.82" stroke-width="1.1"/>
<circle cx="383.5" cy="369.8" r="3.7" fill="#1e90ff" fill-opacity="0.82" stroke="#1e90ff" stroke-opacity="0.82" stroke-width="1.1"/>
<circle cx="387.9" cy="402.8" r="3.7" fill="#1e90ff" fill-opacity="0.82" stroke="#1e90ff" stroke-opacity="0.82" stroke-width="1.1"/>
<circle cx="392.2" cy="337.6" r="3.7" fill="#1e90ff" fill-opacity="0.82" stroke="#1e90ff" stroke-opacity="0.82" stroke-width="1.1"/>
<circle cx="396.5" cy="366.6" r="3.7" fill="#1e90ff" fill-opacity="0.82" stroke="#1e90ff" stroke-opacity="0.82" stroke-width="1.1"/>
<circle cx="400.8" cy="367.6" r="3.7" fill="#1e90ff" fill-opacity="0.82" stroke="#1e90ff" stroke-opacity="0.82" stroke-width="1.1"/>
<circle cx="405.1" cy="315.3" r="3.7" fill="#1e90ff" fill-opacity="0.82" stroke="#1e90ff" stroke-opacity="0.82" stroke-width="1.1"/>
<circle cx="409.4" cy="372.7" r="3.7" fill="#1e90ff" fill-opacity="0.82" stroke="#1e90ff" stroke-opacity="0.82" stroke-width="1.1"/>
<circle cx="413.8" cy="372.9" r="3.7" fill="#1e90ff" fill-opacity="0.82" stroke="#1e90ff" stroke-opacity="0.82" stroke-width="1.1"/>
<circle cx="418.1" cy="370.7" r="3.7" fill="#1e90ff" fill-opacity="0.82" stroke="#1e90ff" stroke-opacity="0.82" stroke-width="1.1"/>
<circle cx="422.4" cy="364.7" r="3.7" fill="#1e90ff" fill-opacity="0.82" stroke="#1e90ff" stroke-opacity="0.82" stroke-width="1.1"/>
<circle cx="426.7" cy="377.3" r="3.7" fill="#1e90ff" fill-opacity="0.82" stroke="#1e90ff" stroke-opacity="0.82" stroke-width="1.1"/>
<circle cx="431" cy="386.9" r="3.7" fill="#1e90ff" fill-opacity="0.82" stroke="#1e90ff" stroke-opacity="0.82" stroke-width="1.1"/>
<circle cx="435.3" cy="390.5" r="3.7" fill="#1e90ff" fill-opacity="0.82" stroke="#1e90ff" stroke-opacity="0.82" stroke-width="1.1"/>
<circle cx="439.7" cy="389.9" r="3.7" fill="#1e90ff" fill-opacity="0.82" stroke="#1e90ff" stroke-opacity="0.82" stroke-width="1.1"/>
<circle cx="444" cy="386.1" r="3.7" fill="#1e90ff" fill-opacity="0.82" stroke="#1e90ff" stroke-opacity="0.82" stroke-width="1.1"/>
<circle cx="448.3" cy="400.8" r="3.7" fill="#1e90ff" fill-opacity="0.82" stroke="#1e90ff" stroke-opacity="0.82" stroke-width="1.1"/>
<circle cx="452.6" cy="379.2" r="3.7" fill="#1e90ff" fill-opacity="0.82" stroke="#1e90ff" stroke-opacity="0.82" stroke-width="1.1"/>
<circle cx="456.9" cy="399.8" r="3.7" fill="#1e90ff" fill-opacity="0.82" stroke="#1e90ff" stroke-opacity="0.82" stroke-width="1.1"/>
<circle cx="461.2" cy="371.4" r="3.7" fill="#1e90ff" fill-opacity="0.82" stroke="#1e90ff" stroke-opacity="0.82" stroke-width="1.1"/>
<circle cx="465.6" cy="360.6" r="3.7" fill="#1e90ff" fill-opacity="0.82" stroke="#1e90ff" stroke-opacity="0.82" stroke-width="1.1"/>
<circle cx="469.9" cy="391.3" r="3.7" fill="#1e90ff" fill-opacity="0.82" stroke="#1e90ff" stroke-opacity="0.82" stroke-width="1.1"/>
<circle cx="474.2" cy="378.2" r="3.7" fill="#1e90ff" fill-opacity="0.82" stroke="#1e90ff" stroke-opacity="0.82" stroke-width="1.1"/>
<circle cx="478.5" cy="386.6" r="3.7" fill="#1e90ff" fill-opacity="0.82" stroke="#1e90ff" stroke-opacity="0.82" stroke-width="1.1"/>
<circle cx="482.8" cy="386.2" r="3.7" fill="#1e90ff" fill-opacity="0.82" stroke="#1e90ff" stroke-opacity="0.82" stroke-width="1.1"/>
<circle cx="487.1" cy="368.9" r="3.7" fill="#1e90ff" fill-opacity="0.82" stroke="#1e90ff" stroke-opacity="0.82" stroke-width="1.1"/>
<circle cx="491.5" cy="357.4" r="3.7" fill="#1e90ff" fill-opacity="0.82" stroke="#1e90ff" stroke-opacity="0.82" stroke-width="1.1"/>
<circle cx="495.8" cy="372" r="3.7" fill="#1e90ff" fill-opacity="0.82" stroke="#1e90ff" stroke-opacity="0.82" stroke-width="1.1"/>
<circle cx="500.1" cy="365.7" r="3.7" fill="#1e90ff" fill-opacity="0.82" stroke="#1e90ff" stroke-opacity="0.82" stroke-width="1.1"/>
<circle cx="504.4" cy="371.4" r="3.7" fill="#1e90ff" fill-opacity="0.82" stroke="#1e90ff" stroke-opacity="0.82" stroke-width="1.1"/>
<circle cx="508.7" cy="366.1" r="3.7" fill="#1e90ff" fill-opacity="0.82" stroke="#1e90ff" stroke-opacity="0.82" stroke-width="1.1"/>
<circle cx="513" cy="313.5" r="3.7" fill="#1e90ff" fill-opacity="0.82" stroke="#1e90ff" stroke-opacity="0.82" stroke-width="1.1"/>
<circle cx="517.4" cy="353.8" r="3.7" fill="#1e90ff" fill-opacity="0.82" stroke="#1e90ff" stroke-opacity="0.82" stroke-width="1.1"/>
<circle cx="521.7" cy="310.1" r="3.7" fill="#1e90ff" fill-opacity="0.82" stroke="#1e90ff" stroke-opacity="0.82" stroke-width="1.1"/>
<circle cx="526" cy="316.1" r="3.7" fill="#1e90ff" fill-opacity="0.82" stroke="#1e90ff" stroke-opacity="0.82" stroke-width="1.1"/>
<circle cx="530.3" cy="346.5" r="3.7" fill="#1e90ff" fill-opacity="0.82" stroke="#1e90ff" stroke-opacity="0.82" stroke-width="1.1"/>
<circle cx="534.6" cy="340.7" r="3.7" fill="#1e90ff" fill-opacity="0.82" stroke="#1e90ff" stroke-opacity="0.82" stroke-width="1.1"/>
<circle cx="538.9" cy="337.9" r="3.7" fill="#1e90ff" fill-opacity="0.82" stroke="#1e90ff" stroke-opacity="0.82" stroke-width="1.1"/>
<circle cx="543.3" cy="344.6" r="3.7" fill="#1e90ff" fill-opacity="0.82" stroke="#1e90ff" stroke-opacity="0.82" stroke-width="1.1"/>
<circle cx="547.6" cy="338.1" r="3.7" fill="#1e90ff" fill-opacity="0.82" stroke="#1e90ff" stroke-opacity="0.82" stroke-width="1.1"/>
<circle cx="551.9" cy="346" r="3.7" fill="#1e90ff" fill-opacity="0.82" stroke="#1e90ff" stroke-opacity="0.82" stroke-width="1.1"/>
<circle cx="556.2" cy="352.5" r="3.7" fill="#1e90ff" fill-opacity="0.82" stroke="#1e90ff" stroke-opacity="0.82" stroke-width="1.1"/>
<circle cx="560.5" cy="346" r="3.7" fill="#1e90ff" fill-opacity="0.82" stroke="#1e90ff" stroke-opacity="0.82" stroke-width="1.1"/>
<circle cx="564.8" cy="348.6" r="3.7" fill="#1e90ff" fill-opacity="0.82" stroke="#1e90ff" stroke-opacity="0.82" stroke-width="1.1"/>
<circle cx="569.2" cy="272.4" r="3.7" fill="#1e90ff" fill-opacity="0.82" stroke="#1e90ff" stroke-opacity="0.82" stroke-width="1.1"/>
<circle cx="573.5" cy="350.7" r="3.7" fill="#1e90ff" fill-opacity="0.82" stroke="#1e90ff" stroke-opacity="0.82" stroke-width="1.1"/>
<circle cx="577.8" cy="370" r="3.7" fill="#1e90ff" fill-opacity="0.82" stroke="#1e90ff" stroke-opacity="0.82" stroke-width="1.1"/>
<circle cx="582.1" cy="271.1" r="3.7" fill="#1e90ff" fill-opacity="0.82" stroke="#1e90ff" stroke-opacity="0.82" stroke-width="1.1"/>
<circle cx="586.4" cy="349.7" r="3.7" fill="#1e90ff" fill-opacity="0.82" stroke="#1e90ff" stroke-opacity="0.82" stroke-width="1.1"/>
<circle cx="590.7" cy="354.5" r="3.7" fill="#1e90ff" fill-opacity="0.82" stroke="#1e90ff" stroke-opacity="0.82" stroke-width="1.1"/>
<circle cx="595.1" cy="355.7" r="3.7" fill="#1e90ff" fill-opacity="0.82" stroke="#1e90ff" stroke-opacity="0.82" stroke-width="1.1"/>
<circle cx="599.4" cy="337.8" r="3.7" fill="#1e90ff" fill-opacity="0.82" stroke="#1e90ff" stroke-opacity="0.82" stroke-width="1.1"/>
<circle cx="603.7" cy="341.2" r="3.7" fill="#1e90ff" fill-opacity="0.82" stroke="#1e90ff" stroke-opacity="0.82" stroke-width="1.1"/>
<circle cx="608" cy="327.7" r="3.7" fill="#1e90ff" fill-opacity="0.82" stroke="#1e90ff" stroke-opacity="0.82" stroke-width="1.1"/>
<circle cx="612.3" cy="309.3" r="3.7" fill="#1e90ff" fill-opacity="0.82" stroke="#1e90ff" stroke-opacity="0.82" stroke-width="1.1"/>
<circle cx="616.6" cy="359" r="3.7" fill="#1e90ff" fill-opacity="0.82" stroke="#1e90ff" stroke-opacity="0.82" stroke-width="1.1"/>
<circle cx="621" cy="293.9" r="3.7" fill="#1e90ff" fill-opacity="0.82" stroke="#1e90ff" stroke-opacity="0.82" stroke-width="1.1"/>
<circle cx="625.3" cy="323.4" r="3.7" fill="#1e90ff" fill-opacity="0.82" stroke="#1e90ff" stroke-opacity="0.82" stroke-width="1.1"/>
<circle cx="629.6" cy="316.8" r="3.7" fill="#1e90ff" fill-opacity="0.82" stroke="#1e90ff" stroke-opacity="0.82" stroke-width="1.1"/>
<circle cx="633.9" cy="349.6" r="3.7" fill="#1e90ff" fill-opacity="0.82" stroke="#1e90ff" stroke-opacity="0.82" stroke-width="1.1"/>
<circle cx="638.2" cy="288.1" r="3.7" fill="#1e90ff" fill-opacity="0.82" stroke="#1e90ff" stroke-opacity="0.82" stroke-width="1.1"/>
<circle cx="642.5" cy="271.4" r="3.7" fill="#1e90ff" fill-opacity="0.82" stroke="#1e90ff" stroke-opacity="0.82" stroke-width="1.1"/>
<circle cx="646.9" cy="345.9" r="3.7" fill="#1e90ff" fill-opacity="0.82" stroke="#1e90ff" stroke-opacity="0.82" stroke-width="1.1"/>
<circle cx="651.2" cy="351.6" r="3.7" fill="#1e90ff" fill-opacity="0.82" stroke="#1e90ff" stroke-opacity="0.82" stroke-width="1.1"/>
<circle cx="655.5" cy="355.2" r="3.7" fill="#1e90ff" fill-opacity="0.82" stroke="#1e90ff" stroke-opacity="0.82" stroke-width="1.1"/>
<circle cx="659.8" cy="334.2" r="3.7" fill="#1e90ff" fill-opacity="0.82" stroke="#1e90ff" stroke-opacity="0.82" stroke-width="1.1"/>
<circle cx="664.1" cy="340.8" r="3.7" fill="#1e90ff" fill-opacity="0.82" stroke="#1e90ff" stroke-opacity="0.82" stroke-width="1.1"/>
<path d="M68.3,381 L71.4,369.2 L74.9,360 L78,349.9 L81.7,346.2 L88,345.3 L94.3,347.1 L99.7,344.4 L105.1,340.8 L111.3,335.6 L117.5,333.5 L124.9,331.2 L130.1,331.8 L136.4,332.9 L141.6,332.4 L146.6,331.6 L147.9,319.3 L151,308.8 L154.1,301.5 L158.3,304.6 L163.5,299.4 L167.1,299.1 L174.1,302.6 L179.4,304.4 L185.6,306.7 L189.9,301.9 L191.5,295 L193.8,286 L197.6,285.4 L209.7,288.2 L214.1,289.3 L219.6,290.9 L228.1,289.6 L230.9,282.5 L233.8,275.9 L237.5,271.3 L245,270.3 L256.3,269.8 L263.8,269.4 L275,269 L289.8,267.9 L305.6,266.9 L312.6,263.9 L321.5,262.9 L330,262.5 L342.6,262.1 L360.2,262.1 L377.9,261.7 L395.5,261.4 L405,261.2 L435.2,260.8 L467,261.5 L475,262.3 L492.6,263.2 L512.9,264.1 L517.3,260.6 L522.6,256.1 L531.4,252.6 L542,250 L557.6,249.7 L575.2,249.2 L592.9,249.2 L620,248.8 L633.1,248.5 L664.6,247.2 L664.6,300.2 L633.1,300.9 L620,301.3 L592.9,302 L575.2,302.6 L557.6,303.4 L542,304.6 L531.4,306.9 L520.8,309 L512.9,313.4 L492.6,314.3 L480,313.7 L467,312.2 L435.2,310.8 L405,312 L395.5,312.3 L377.9,313.4 L360.2,313.7 L342.6,313.7 L330,313.6 L321.5,313.4 L311.6,314.4 L305.6,316 L289.8,316.8 L275,319.6 L256.3,320 L243.1,321 L235.6,322.8 L231.9,327.5 L228.1,334.6 L219.7,335.9 L215,335 L209.4,332.6 L202.4,331.8 L200,333.8 L195,335.4 L191.7,338.7 L188.4,343.7 L184,347.5 L178.5,346.4 L173,345.9 L167.5,345.3 L162,345.9 L157.6,347 L154.3,348.6 L151,356.3 L146.6,365.3 L136.4,367.4 L123.8,366.3 L111.3,370.5 L103.3,373.3 L96.1,375.1 L90.7,377 L85.3,377 L83.2,377.5 L80.6,381.7 L77.2,389.7 L72.6,399 L68.3,408.5 Z" fill="#ff0000" fill-opacity="0.2" stroke="#ff0000" stroke-opacity="0.2" stroke-width="1" stroke-linejoin="round"/>
<path d="M68.3,401.3 L72.6,389.6 L77.1,378.7 L80.8,372.4 L87.1,370.1 L93.4,369.7 L99.7,367 L105.1,364.3 L111.3,361.1 L117.5,359.6 L124.9,357.3 L131.1,357.3 L137.4,358 L146.6,357.4 L149.9,348.6 L154.3,336.5 L158.7,338.2 L163.1,333.8 L167.5,332.7 L171.9,334.9 L178.5,335.4 L184,337.1 L188.4,333.8 L191.7,326.6 L195,322.2 L197.9,319.9 L205.9,321.2 L212.9,322.1 L215,322.8 L219.7,324.1 L228.1,322.8 L231.9,316.3 L236.6,308.4 L243.1,306.9 L256.3,306.9 L270,306.1 L289.8,305.5 L305.6,304.1 L312.6,302.5 L321.5,301.5 L330,301 L342.6,300.5 L360.2,300.5 L377.9,300.2 L395.5,299.3 L417.6,298.7 L435.2,298.5 L452.9,298.7 L470.5,299.9 L492.6,300.6 L512.9,300.6 L517.3,297.6 L522.6,293.5 L531.4,291 L542,289.5 L557.6,289 L575.2,288.5 L592.9,288.5 L620,288 L633.1,288 L651.8,287.1 L664.6,286" fill="none" stroke="#ff5050" stroke-width="1.8" stroke-linejoin="round" stroke-linecap="butt"/>
<path d="M59.8,368.3 L72.6,368.3 L78,365.7 L85.3,362.1 L96.1,361.6 L110,361.2 L149.9,361.3 L153.2,353 L157.6,347 L162,347.5 L167.5,346.4 L192.8,346.4 L197.2,343.1 L200,342.6 L205.9,341.8 L220,341.5 L233.8,341.6 L239.4,340.6 L245,336.5 L250.6,334.6 L260,334.1 L275.3,334.1 L278.9,326 L283.5,318.4 L287.7,319.8 L291.5,318.4 L309.6,318.4 L311.6,304.5 L314.6,290.6 L317.5,280.3 L322.4,283.2 L326.8,279.4 L430.8,279.6 L434.4,281.4 L447.6,281.4 L451.1,279.6 L568.2,279.6 L572.6,273.5 L577,270.3 L584.1,269.1 L664.6,269.1" fill="none" stroke="#1f8ef6" stroke-width="1.75" stroke-linejoin="round" stroke-linecap="butt"/>
</g>
<rect x="519.4" y="131.4" width="148" height="54.5" fill="#fff" fill-opacity="0.85" stroke="#808080" stroke-width="1"/>
<line x1="525.6999999999999" y1="138.5" x2="553.0" y2="138.5" stroke="#80bff2" stroke-width="1.6"/>
<line x1="524.8" y1="156.5" x2="552.4" y2="156.5" stroke="#f55" stroke-width="1.6"/>
<circle cx="538.6" cy="176.4" r="3.9" fill="#1e90ff" fill-opacity="0.85"/>
<text x="562.3" y="143.7" class="t">Direct DL Mmax</text>
<text x="562.3" y="163" class="t">PIDL Mmax</text>
<text x="562.3" y="180.1" class="t">Observed Mmax</text>
<line x1="681.2" y1="145" x2="681.2" y2="188" stroke="#f3f3f3" stroke-width="1"/>
<rect x="45.5" y="241.4" width="148" height="55.7" fill="#fff" fill-opacity="0.85" stroke="#808080" stroke-width="1"/>
<line x1="51.8" y1="248.5" x2="79.1" y2="248.5" stroke="#80bff2" stroke-width="1.6"/>
<line x1="50.9" y1="266.5" x2="78.5" y2="266.5" stroke="#f55" stroke-width="1.6"/>
<circle cx="65.5" cy="286.4" r="3.9" fill="#1e90ff" fill-opacity="0.85"/>
<text x="89.2" y="253.7" class="t">Direct DL Mmax</text>
<text x="89.2" y="273" class="t">PIDL Mmax</text>
<text x="89.2" y="290.1" class="t">Observed Mmax</text>
<rect x="194" y="285.4" width="16" height="11.6" fill="#fff" fill-opacity="0.8"/>
<rect x="45.4" y="8.4" width="621.6" height="177.2" fill="none" stroke="#222" stroke-width="1"/>
<line x1="41.8" y1="185.6" x2="45.4" y2="185.6" stroke="#222" stroke-width="1"/>
<text x="38.3" y="190.4" text-anchor="end" class="t">−1</text>
<line x1="41.8" y1="150.2" x2="45.4" y2="150.2" stroke="#222" stroke-width="1"/>
<text x="38.3" y="155" text-anchor="end" class="t">0</text>
<line x1="41.8" y1="114.8" x2="45.4" y2="114.8" stroke="#222" stroke-width="1"/>
<text x="38.3" y="119.6" text-anchor="end" class="t">1</text>
<line x1="41.8" y1="79.3" x2="45.4" y2="79.3" stroke="#222" stroke-width="1"/>
<text x="38.3" y="84.1" text-anchor="end" class="t">2</text>
<line x1="41.8" y1="43.9" x2="45.4" y2="43.9" stroke="#222" stroke-width="1"/>
<text x="38.3" y="48.7" text-anchor="end" class="t">3</text>
<line x1="41.8" y1="8.4" x2="45.4" y2="8.4" stroke="#222" stroke-width="1"/>
<text x="38.3" y="13.2" text-anchor="end" class="t">4</text>
<line x1="45.4" y1="185.6" x2="45.4" y2="189.2" stroke="#222" stroke-width="1"/>
<text x="45.4" y="203.4" text-anchor="middle" class="t">10-26</text>
<line x1="62.7" y1="185.6" x2="62.7" y2="187.7" stroke="#222" stroke-width="0.7"/>
<line x1="79.9" y1="185.6" x2="79.9" y2="187.7" stroke="#222" stroke-width="0.7"/>
<line x1="97.2" y1="185.6" x2="97.2" y2="187.7" stroke="#222" stroke-width="0.7"/>
<line x1="114.5" y1="185.6" x2="114.5" y2="187.7" stroke="#222" stroke-width="0.7"/>
<line x1="131.7" y1="185.6" x2="131.7" y2="189.2" stroke="#222" stroke-width="1"/>
<text x="131.7" y="203.4" text-anchor="middle" class="t">10-31</text>
<line x1="149" y1="185.6" x2="149" y2="187.7" stroke="#222" stroke-width="0.7"/>
<line x1="166.3" y1="185.6" x2="166.3" y2="187.7" stroke="#222" stroke-width="0.7"/>
<line x1="183.5" y1="185.6" x2="183.5" y2="187.7" stroke="#222" stroke-width="0.7"/>
<line x1="200.8" y1="185.6" x2="200.8" y2="187.7" stroke="#222" stroke-width="0.7"/>
<line x1="218.1" y1="185.6" x2="218.1" y2="189.2" stroke="#222" stroke-width="1"/>
<text x="218.1" y="203.4" text-anchor="middle" class="t">11-05</text>
<line x1="235.3" y1="185.6" x2="235.3" y2="187.7" stroke="#222" stroke-width="0.7"/>
<line x1="252.6" y1="185.6" x2="252.6" y2="187.7" stroke="#222" stroke-width="0.7"/>
<line x1="269.9" y1="185.6" x2="269.9" y2="187.7" stroke="#222" stroke-width="0.7"/>
<line x1="287.1" y1="185.6" x2="287.1" y2="187.7" stroke="#222" stroke-width="0.7"/>
<line x1="304.4" y1="185.6" x2="304.4" y2="189.2" stroke="#222" stroke-width="1"/>
<text x="304.4" y="203.4" text-anchor="middle" class="t">11-10</text>
<line x1="321.7" y1="185.6" x2="321.7" y2="187.7" stroke="#222" stroke-width="0.7"/>
<line x1="338.9" y1="185.6" x2="338.9" y2="187.7" stroke="#222" stroke-width="0.7"/>
<line x1="356.2" y1="185.6" x2="356.2" y2="187.7" stroke="#222" stroke-width="0.7"/>
<line x1="373.5" y1="185.6" x2="373.5" y2="187.7" stroke="#222" stroke-width="0.7"/>
<line x1="390.7" y1="185.6" x2="390.7" y2="189.2" stroke="#222" stroke-width="1"/>
<text x="390.7" y="203.4" text-anchor="middle" class="t">11-15</text>
<line x1="408" y1="185.6" x2="408" y2="187.7" stroke="#222" stroke-width="0.7"/>
<line x1="425.3" y1="185.6" x2="425.3" y2="187.7" stroke="#222" stroke-width="0.7"/>
<line x1="442.5" y1="185.6" x2="442.5" y2="187.7" stroke="#222" stroke-width="0.7"/>
<line x1="459.8" y1="185.6" x2="459.8" y2="187.7" stroke="#222" stroke-width="0.7"/>
<line x1="477.1" y1="185.6" x2="477.1" y2="189.2" stroke="#222" stroke-width="1"/>
<text x="477.1" y="203.4" text-anchor="middle" class="t">11-20</text>
<line x1="494.3" y1="185.6" x2="494.3" y2="187.7" stroke="#222" stroke-width="0.7"/>
<line x1="511.6" y1="185.6" x2="511.6" y2="187.7" stroke="#222" stroke-width="0.7"/>
<line x1="528.9" y1="185.6" x2="528.9" y2="187.7" stroke="#222" stroke-width="0.7"/>
<line x1="546.1" y1="185.6" x2="546.1" y2="187.7" stroke="#222" stroke-width="0.7"/>
<line x1="563.4" y1="185.6" x2="563.4" y2="189.2" stroke="#222" stroke-width="1"/>
<text x="563.4" y="203.4" text-anchor="middle" class="t">11-25</text>
<line x1="580.7" y1="185.6" x2="580.7" y2="187.7" stroke="#222" stroke-width="0.7"/>
<line x1="597.9" y1="185.6" x2="597.9" y2="187.7" stroke="#222" stroke-width="0.7"/>
<line x1="615.2" y1="185.6" x2="615.2" y2="187.7" stroke="#222" stroke-width="0.7"/>
<line x1="632.5" y1="185.6" x2="632.5" y2="187.7" stroke="#222" stroke-width="0.7"/>
<line x1="649.7" y1="185.6" x2="649.7" y2="189.2" stroke="#222" stroke-width="1"/>
<text x="649.7" y="203.4" text-anchor="middle" class="t">11-30</text>
<line x1="667" y1="185.6" x2="667" y2="187.7" stroke="#222" stroke-width="0.7"/>
<text x="356.2" y="220.2" text-anchor="middle" class="t">Date</text>
<rect x="45.4" y="239.2" width="621.6" height="177.3" fill="none" stroke="#222" stroke-width="1"/>
<line x1="41.8" y1="394.8" x2="45.4" y2="394.8" stroke="#222" stroke-width="1"/>
<text x="38.3" y="399.6" text-anchor="end" class="t">0</text>
<line x1="41.8" y1="354.4" x2="45.4" y2="354.4" stroke="#222" stroke-width="1"/>
<text x="38.3" y="359.2" text-anchor="end" class="t">1</text>
<line x1="41.8" y1="313.9" x2="45.4" y2="313.9" stroke="#222" stroke-width="1"/>
<text x="38.3" y="318.7" text-anchor="end" class="t">2</text>
<line x1="41.8" y1="273.5" x2="45.4" y2="273.5" stroke="#222" stroke-width="1"/>
<text x="38.3" y="278.3" text-anchor="end" class="t">3</text>
<line x1="45.4" y1="416.5" x2="45.4" y2="420.1" stroke="#222" stroke-width="1"/>
<text x="45.4" y="434.3" text-anchor="middle" class="t">10-26</text>
<line x1="62.7" y1="416.5" x2="62.7" y2="418.6" stroke="#222" stroke-width="0.7"/>
<line x1="79.9" y1="416.5" x2="79.9" y2="418.6" stroke="#222" stroke-width="0.7"/>
<line x1="97.2" y1="416.5" x2="97.2" y2="418.6" stroke="#222" stroke-width="0.7"/>
<line x1="114.5" y1="416.5" x2="114.5" y2="418.6" stroke="#222" stroke-width="0.7"/>
<line x1="131.7" y1="416.5" x2="131.7" y2="420.1" stroke="#222" stroke-width="1"/>
<text x="131.7" y="434.3" text-anchor="middle" class="t">10-31</text>
<line x1="149" y1="416.5" x2="149" y2="418.6" stroke="#222" stroke-width="0.7"/>
<line x1="166.3" y1="416.5" x2="166.3" y2="418.6" stroke="#222" stroke-width="0.7"/>
<line x1="183.5" y1="416.5" x2="183.5" y2="418.6" stroke="#222" stroke-width="0.7"/>
<line x1="200.8" y1="416.5" x2="200.8" y2="418.6" stroke="#222" stroke-width="0.7"/>
<line x1="218.1" y1="416.5" x2="218.1" y2="420.1" stroke="#222" stroke-width="1"/>
<text x="218.1" y="434.3" text-anchor="middle" class="t">11-05</text>
<line x1="235.3" y1="416.5" x2="235.3" y2="418.6" stroke="#222" stroke-width="0.7"/>
<line x1="252.6" y1="416.5" x2="252.6" y2="418.6" stroke="#222" stroke-width="0.7"/>
<line x1="269.9" y1="416.5" x2="269.9" y2="418.6" stroke="#222" stroke-width="0.7"/>
<line x1="287.1" y1="416.5" x2="287.1" y2="418.6" stroke="#222" stroke-width="0.7"/>
<line x1="304.4" y1="416.5" x2="304.4" y2="420.1" stroke="#222" stroke-width="1"/>
<text x="304.4" y="434.3" text-anchor="middle" class="t">11-10</text>
<line x1="321.7" y1="416.5" x2="321.7" y2="418.6" stroke="#222" stroke-width="0.7"/>
<line x1="338.9" y1="416.5" x2="338.9" y2="418.6" stroke="#222" stroke-width="0.7"/>
<line x1="356.2" y1="416.5" x2="356.2" y2="418.6" stroke="#222" stroke-width="0.7"/>
<line x1="373.5" y1="416.5" x2="373.5" y2="418.6" stroke="#222" stroke-width="0.7"/>
<line x1="390.7" y1="416.5" x2="390.7" y2="420.1" stroke="#222" stroke-width="1"/>
<text x="390.7" y="434.3" text-anchor="middle" class="t">11-15</text>
<line x1="408" y1="416.5" x2="408" y2="418.6" stroke="#222" stroke-width="0.7"/>
<line x1="425.3" y1="416.5" x2="425.3" y2="418.6" stroke="#222" stroke-width="0.7"/>
<line x1="442.5" y1="416.5" x2="442.5" y2="418.6" stroke="#222" stroke-width="0.7"/>
<line x1="459.8" y1="416.5" x2="459.8" y2="418.6" stroke="#222" stroke-width="0.7"/>
<line x1="477.1" y1="416.5" x2="477.1" y2="420.1" stroke="#222" stroke-width="1"/>
<text x="477.1" y="434.3" text-anchor="middle" class="t">11-20</text>
<line x1="494.3" y1="416.5" x2="494.3" y2="418.6" stroke="#222" stroke-width="0.7"/>
<line x1="511.6" y1="416.5" x2="511.6" y2="418.6" stroke="#222" stroke-width="0.7"/>
<line x1="528.9" y1="416.5" x2="528.9" y2="418.6" stroke="#222" stroke-width="0.7"/>
<line x1="546.1" y1="416.5" x2="546.1" y2="418.6" stroke="#222" stroke-width="0.7"/>
<line x1="563.4" y1="416.5" x2="563.4" y2="420.1" stroke="#222" stroke-width="1"/>
<text x="563.4" y="434.3" text-anchor="middle" class="t">11-25</text>
<line x1="580.7" y1="416.5" x2="580.7" y2="418.6" stroke="#222" stroke-width="0.7"/>
<line x1="597.9" y1="416.5" x2="597.9" y2="418.6" stroke="#222" stroke-width="0.7"/>
<line x1="615.2" y1="416.5" x2="615.2" y2="418.6" stroke="#222" stroke-width="0.7"/>
<line x1="632.5" y1="416.5" x2="632.5" y2="418.6" stroke="#222" stroke-width="0.7"/>
<line x1="649.7" y1="416.5" x2="649.7" y2="420.1" stroke="#222" stroke-width="1"/>
<text x="649.7" y="434.3" text-anchor="middle" class="t">11-30</text>
<line x1="667" y1="416.5" x2="667" y2="418.6" stroke="#222" stroke-width="0.7"/>
<text x="356.2" y="451.1" text-anchor="middle" class="t">Date</text>
<text x="2.6" y="12.6" class="p">(a)</text>
<text x="6.6" y="250.9" class="p">(b)</text>
<g transform="translate(12.6,103.0) rotate(-90)"><text x="0" y="0" class="t" style="font-size:13.8px">M<tspan style="font-size:8px" dy="4.4">max</tspan></text></g>
<g transform="translate(13.4,338.2) rotate(-90)"><text x="0" y="0" class="t" style="font-size:13.8px">M<tspan style="font-size:8px" dy="4.4">max</tspan></text></g>
</svg>
</body></html>
